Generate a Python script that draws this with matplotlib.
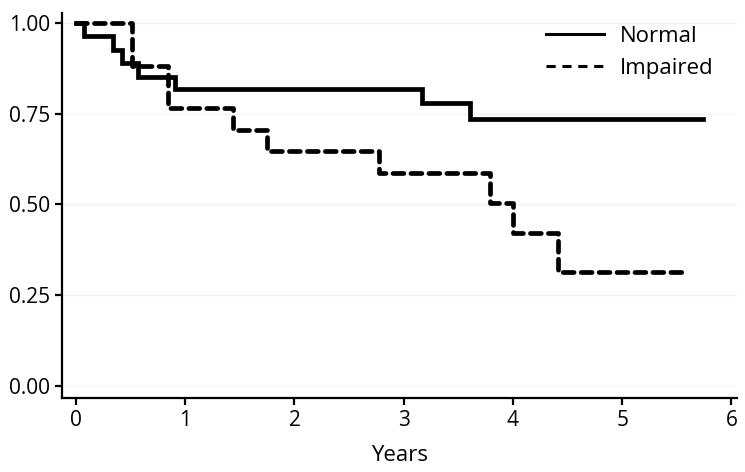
import matplotlib.pyplot as plt
from matplotlib.lines import Line2D

plt.rcParams['font.family'] = ['Open Sans', 'DejaVu Sans']

# Kaplan-Meier step data
normal_t = [0, 0.07, 0.34, 0.42, 0.57, 0.91, 3.17, 3.61, 5.74]
normal_s = [1.0, 0.963, 0.926, 0.889, 0.852, 0.818, 0.779, 0.735, 0.735]
impaired_t = [0, 0.51, 0.84, 1.44, 1.75, 2.77, 3.79, 4.00, 4.41, 5.60]
impaired_s = [1.0, 0.882, 0.765, 0.706, 0.647, 0.588, 0.504, 0.420, 0.315, 0.315]

x_ticks = [0, 1, 2, 3, 4, 5, 6]
y_ticks = [0.00, 0.25, 0.50, 0.75, 1.00]

fig = plt.figure(figsize=(7.45, 4.72), dpi=100)
ax = fig.add_axes([0.083, 0.157, 0.906, 0.815])

ax.step(normal_t, normal_s, where='post', color='black', lw=3.4, solid_joinstyle='miter')
ax.step(impaired_t, impaired_s, where='post', color='black', lw=3.4,
        linestyle=(0, (2.3, 1.5)), dash_capstyle='round')

ax.set_xlim(-0.13, 6.05)
ax.set_ylim(-0.033, 1.027)
ax.set_xticks(x_ticks)
ax.set_yticks(y_ticks)
ax.set_yticklabels([f'{v:.2f}' for v in y_ticks])
ax.grid(axis='y', color='#f2f2f2', lw=1)
ax.set_axisbelow(True)

for s in ['top', 'right']:
    ax.spines[s].set_visible(False)
for s in ['left', 'bottom']:
    ax.spines[s].set_linewidth(1.6)
ax.tick_params(labelsize=15, width=1.6, length=5, color='black')
ax.set_xlabel('Years', fontsize=16, labelpad=10)

handles = [Line2D([], [], color='black', lw=2.2),
           Line2D([], [], color='black', lw=2.2, linestyle=(0, (3, 2.2)))]
ax.legend(handles, ['Normal', 'Impaired'], loc='upper right', frameon=False,
          fontsize=16, handlelength=2.6, handletextpad=0.7,
          bbox_to_anchor=(0.995, 1.02), labelspacing=0.5)

fig.savefig('out.png', dpi=100)
